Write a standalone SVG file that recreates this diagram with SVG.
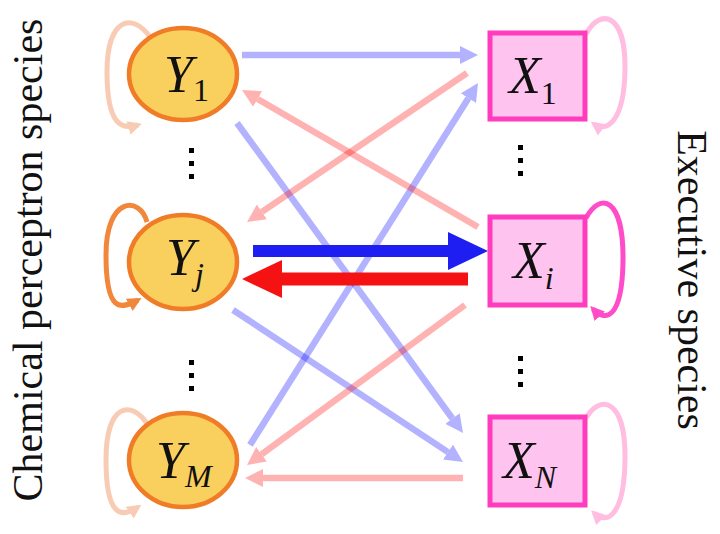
<svg xmlns="http://www.w3.org/2000/svg" width="720" height="534" viewBox="0 0 720 534">
<style>
.yc{fill:#f9cf5e;stroke:#f07c28;stroke-width:4.5}
.xb{fill:#ffc3f0;stroke:#ff3cbe;stroke-width:5}
.lab{font-family:"Liberation Serif",serif;font-style:italic;font-size:52px;fill:#111}
.sub{font-size:32px}
.num{font-style:normal}
.side{font-family:"Liberation Serif",serif;font-size:42px;fill:#111}
.lb{stroke:#0000ff;stroke-opacity:0.3;stroke-width:6.5;fill:none}
.lr{stroke:#ff0000;stroke-opacity:0.3;stroke-width:6.5;fill:none}
.loop{fill:none;stroke-width:5}
.dot{fill:#000}
</style>
<defs>
<marker id="hb" markerUnits="userSpaceOnUse" viewBox="0 0 18 18" markerWidth="18" markerHeight="18" refX="0" refY="9" orient="auto"><path d="M0,0 L18,9 L0,18 Z" fill="#0000ff" fill-opacity="0.3"/></marker>
<marker id="hr" markerUnits="userSpaceOnUse" viewBox="0 0 18 18" markerWidth="18" markerHeight="18" refX="0" refY="9" orient="auto"><path d="M0,0 L18,9 L0,18 Z" fill="#ff0000" fill-opacity="0.3"/></marker>
<marker id="lpPeach" markerUnits="userSpaceOnUse" viewBox="0 0 14 14" markerWidth="14" markerHeight="14" refX="10" refY="7" orient="auto"><path d="M0,0 L14,7 L0,14 Z" fill="#f8ccb4"/></marker>
<marker id="lpOrange" markerUnits="userSpaceOnUse" viewBox="0 0 14 14" markerWidth="14" markerHeight="14" refX="10" refY="7" orient="auto"><path d="M0,0 L14,7 L0,14 Z" fill="#f0873a"/></marker>
<marker id="lpPink" markerUnits="userSpaceOnUse" viewBox="0 0 14 14" markerWidth="14" markerHeight="14" refX="10" refY="7" orient="auto"><path d="M0,0 L14,7 L0,14 Z" fill="#ffbde2"/></marker>
<marker id="lpMag" markerUnits="userSpaceOnUse" viewBox="0 0 14 14" markerWidth="14" markerHeight="14" refX="10" refY="7" orient="auto"><path d="M0,0 L14,7 L0,14 Z" fill="#ff4cc8"/></marker>
</defs>
<rect width="720" height="534" fill="#fff"/>

<g id="connectors">
<line class="lb" x1="242" y1="55" x2="460" y2="55" marker-end="url(#hb)"/>
<line class="lb" x1="237" y1="123" x2="452.4" y2="418.5" marker-end="url(#hb)"/>
<line class="lb" x1="233" y1="310" x2="448" y2="452.1" marker-end="url(#hb)"/>
<line class="lb" x1="250" y1="445" x2="468.4" y2="98.2" marker-end="url(#hb)"/>
<line class="lr" x1="467" y1="73" x2="261.9" y2="211.9" marker-end="url(#hr)"/>
<line class="lr" x1="478" y1="227" x2="257.6" y2="99" marker-end="url(#hr)"/>
<line class="lr" x1="465" y1="305" x2="261.5" y2="454.3" marker-end="url(#hr)"/>
<line class="lr" x1="463" y1="478" x2="263" y2="478" marker-end="url(#hr)"/>
<path d="M253,245 L448,245 L448,232 L488,251 L448,270 L448,257 L253,257 Z" fill="#1e1ef2"/>
<path d="M468,272.5 L282,272.5 L282,260 L242,279 L282,298 L282,285.5 L468,285.5 Z" fill="#f51212"/>
<path class="loop" d="M150,37 C132,12 107,18 107,72 C107,126 122,130 138,125" stroke="#f8ccb4" marker-end="url(#lpPeach)"/>
<path class="loop" d="M147,222 C140,196 106,196 106,255 C106,312 120,310 138,300" stroke="#f0873a" marker-end="url(#lpOrange)"/>
<path class="loop" d="M148,425 C130,398 106,405 106,460 C106,518 122,518 138,507" stroke="#f8ccb4" marker-end="url(#lpPeach)"/>
<path class="loop" d="M586,34 C600,8 626,12 625,70 C624,125 605,132 594,124" stroke="#ffbde2" marker-end="url(#lpPink)"/>
<path class="loop" d="M586,218 C600,192 624,196 623,262 C622,320 605,322 593,309" stroke="#ff4cc8" marker-end="url(#lpMag)"/>
<path class="loop" d="M586,418 C600,394 626,398 625,460 C624,520 605,524 594,513" stroke="#ffbde2" marker-end="url(#lpPink)"/>
</g>

<g id="Y1"><ellipse class="yc" cx="183" cy="74" rx="54" ry="46"/><text class="lab" x="164" y="92">Y<tspan class="sub num" dy="9">1</tspan></text></g>
<g id="Yj"><ellipse class="yc" cx="183" cy="262" rx="54" ry="47"/><text class="lab" x="166" y="275">Y<tspan class="sub" dy="10">j</tspan></text></g>
<g id="YM"><ellipse class="yc" cx="183" cy="460" rx="54" ry="47"/><text class="lab" x="156" y="478">Y<tspan class="sub" dy="9">M</tspan></text></g>
<g id="X1"><rect class="xb" x="490" y="33" width="95" height="86"/><text class="lab" x="509" y="93">X<tspan class="sub num" dy="11">1</tspan></text></g>
<g id="Xi"><rect class="xb" x="490" y="217" width="95" height="88"/><text class="lab" x="513" y="278">X<tspan class="sub" dy="11">i</tspan></text></g>
<g id="XN"><rect class="xb" x="490" y="417" width="95" height="88"/><text class="lab" x="503" y="478">X<tspan class="sub" dy="10">N</tspan></text></g>

<g id="dots">
<rect class="dot" x="189" y="148" width="5" height="5"/>
<rect class="dot" x="189" y="161" width="5" height="5"/>
<rect class="dot" x="189" y="174" width="5" height="5"/>
<rect class="dot" x="518" y="145" width="5" height="5"/>
<rect class="dot" x="518" y="158" width="5" height="5"/>
<rect class="dot" x="518" y="171" width="5" height="5"/>
<rect class="dot" x="189" y="360" width="5" height="5"/>
<rect class="dot" x="189" y="373" width="5" height="5"/>
<rect class="dot" x="189" y="386" width="5" height="5"/>
<rect class="dot" x="518" y="356" width="5" height="5"/>
<rect class="dot" x="518" y="369" width="5" height="5"/>
<rect class="dot" x="518" y="382" width="5" height="5"/>
</g>

<g id="left-label"><text class="side" text-anchor="middle" transform="translate(42,260) rotate(-90)">Chemical perceptron species</text></g>
<g id="right-label"><text class="side" text-anchor="middle" transform="translate(678,280) rotate(90)">Executive species</text></g>
</svg>
